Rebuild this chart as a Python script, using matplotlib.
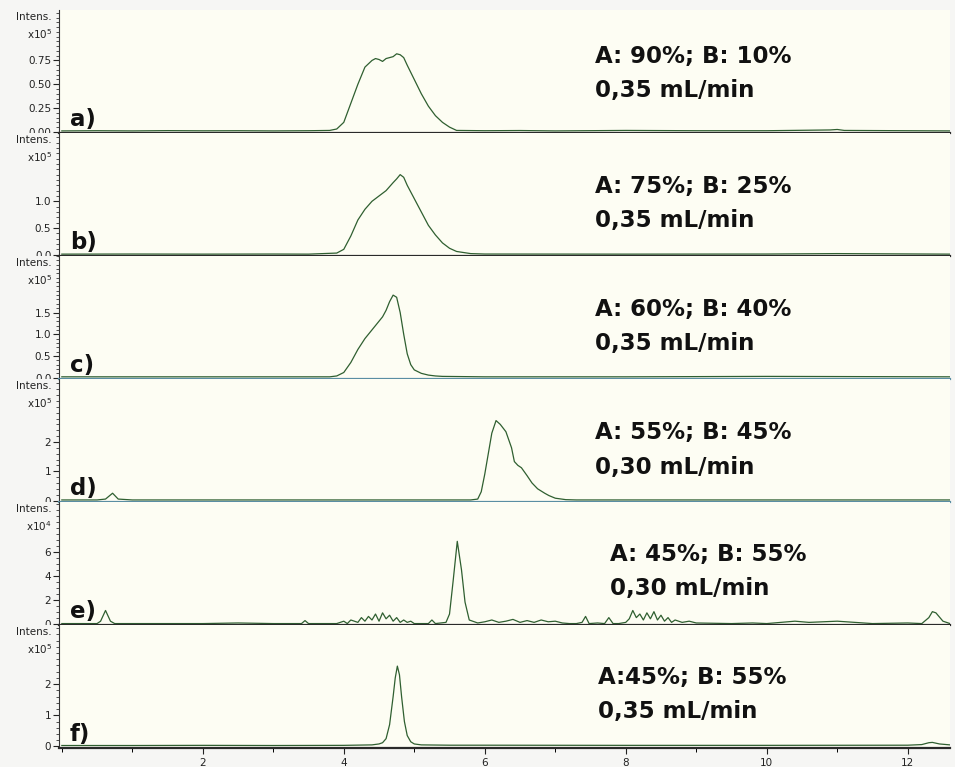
import matplotlib
matplotlib.use("Agg")
import matplotlib.pyplot as plt
from matplotlib.ticker import FixedLocator, MultipleLocator, FixedFormatter
from matplotlib.transforms import Bbox, TransformedBbox

# ---------------- data ----------------
t_a = [0, 0.5, 1, 1.5, 2, 2.5, 3, 3.5, 3.8, 3.9, 4.0, 4.1, 4.2, 4.3, 4.4, 4.45, 4.5, 4.55, 4.6, 4.65,
       4.7, 4.75, 4.8, 4.85, 4.9, 5.0, 5.1, 5.2, 5.3, 5.4, 5.5, 5.6, 6, 6.5, 7, 8, 9, 10, 10.9, 11.0, 11.1, 12, 12.6]
y_a = [0.010, 0.012, 0.010, 0.013, 0.011, 0.012, 0.010, 0.012, 0.015, 0.03, 0.10, 0.30, 0.50, 0.68, 0.75, 0.77,
       0.76, 0.74, 0.77, 0.78, 0.79, 0.82, 0.81, 0.78, 0.70, 0.55, 0.40, 0.27, 0.17, 0.10, 0.05, 0.015, 0.012,
       0.014, 0.010, 0.015, 0.012, 0.012, 0.020, 0.025, 0.015, 0.012, 0.010]

t_b = [0, 1, 2, 3, 3.5, 3.9, 4.0, 4.1, 4.2, 4.3, 4.4, 4.5, 4.6, 4.7, 4.75, 4.8, 4.85, 4.9, 5.0, 5.1, 5.2,
       5.3, 5.4, 5.5, 5.6, 5.8, 6, 8, 10, 11, 12.6]
y_b = [0.01, 0.012, 0.01, 0.012, 0.01, 0.03, 0.10, 0.35, 0.65, 0.85, 1.00, 1.10, 1.20, 1.35, 1.42, 1.50, 1.45,
       1.30, 1.05, 0.80, 0.55, 0.37, 0.22, 0.12, 0.06, 0.02, 0.012, 0.01, 0.012, 0.02, 0.01]

t_c = [0, 2, 3.8, 3.9, 4.0, 4.1, 4.2, 4.3, 4.4, 4.5, 4.55, 4.6, 4.65, 4.7, 4.75, 4.8, 4.85, 4.9, 4.95, 5.0,
       5.1, 5.2, 5.3, 5.4, 6, 8, 10, 12.6]
y_c = [0.02, 0.02, 0.02, 0.04, 0.12, 0.35, 0.65, 0.90, 1.10, 1.30, 1.40, 1.55, 1.75, 1.90, 1.85, 1.50, 1.00,
       0.55, 0.30, 0.18, 0.10, 0.06, 0.04, 0.03, 0.02, 0.02, 0.03, 0.02]

t_d = [0, 0.5, 0.62, 0.72, 0.8, 1.0, 3, 5, 5.8, 5.9, 5.95, 6.0, 6.05, 6.1, 6.16, 6.22, 6.3, 6.38, 6.42, 6.47,
       6.52, 6.6, 6.67, 6.75, 6.85, 6.91, 7.0, 7.15, 7.3, 9, 11, 12.6]
y_d = [0.02, 0.02, 0.05, 0.25, 0.05, 0.02, 0.02, 0.02, 0.02, 0.05, 0.30, 0.90, 1.60, 2.30, 2.73, 2.60, 2.35,
       1.80, 1.33, 1.20, 1.12, 0.85, 0.60, 0.40, 0.25, 0.17, 0.08, 0.03, 0.02, 0.02, 0.02, 0.02]

t_e = [0, 0.5, 0.55, 0.62, 0.69, 0.75, 1.0, 1.5, 2.0, 2.5,
       3.0, 3.4, 3.45, 3.5, 3.9, 4.0, 4.05, 4.1, 4.2, 4.25,
       4.3, 4.35, 4.4, 4.45, 4.5, 4.55, 4.6, 4.65, 4.7, 4.75,
       4.8, 4.85, 4.9, 4.95, 5.0, 5.2, 5.25, 5.3, 5.45, 5.5,
       5.55, 5.61, 5.67, 5.72, 5.78, 5.9, 6.0, 6.1, 6.2, 6.3,
       6.4, 6.5, 6.6, 6.7, 6.8, 6.9, 7.0, 7.1, 7.2, 7.3,
       7.38, 7.43, 7.48, 7.6, 7.7, 7.76, 7.82, 7.9, 8.0, 8.05,
       8.1, 8.15, 8.2, 8.25, 8.3, 8.35, 8.4, 8.45, 8.5, 8.55,
       8.6, 8.65, 8.7, 8.8, 8.9, 9.0, 9.5, 9.8, 10.0, 10.2,
       10.4, 10.6, 11.0, 11.5, 12.0, 12.2, 12.3, 12.35, 12.4, 12.5,
       12.6]
y_e = [0.0, 0.0, 0.2, 1.1, 0.2, 0.0, 0.0, 0.0, 0.0, 0.05,
       0.0, 0.0, 0.25, 0.0, 0.0, 0.2, 0.0, 0.3, 0.1, 0.5,
       0.2, 0.6, 0.3, 0.8, 0.2, 0.9, 0.4, 0.7, 0.2, 0.5,
       0.1, 0.3, 0.1, 0.2, 0.0, 0.0, 0.3, 0.0, 0.1, 0.8,
       3.5, 6.9, 4.5, 1.8, 0.3, 0.05, 0.15, 0.3, 0.1, 0.2,
       0.35, 0.1, 0.25, 0.1, 0.3, 0.15, 0.2, 0.05, 0.0, 0.0,
       0.1, 0.6, 0.0, 0.05, 0.0, 0.5, 0.0, 0.0, 0.1, 0.4,
       1.1, 0.5, 0.8, 0.3, 0.9, 0.4, 1.0, 0.3, 0.7, 0.2,
       0.5, 0.1, 0.3, 0.1, 0.2, 0.05, 0.0, 0.05, 0.0, 0.1,
       0.2, 0.1, 0.2, 0.0, 0.05, 0.0, 0.5, 1.0, 0.9, 0.2,
       0.0]

t_f = [0, 1, 2, 3, 4, 4.4, 4.5, 4.55, 4.6, 4.65, 4.7, 4.73, 4.76, 4.79, 4.82, 4.86, 4.9, 4.95, 5.0, 5.1,
       5.5, 6, 8, 10, 12, 12.2, 12.3, 12.35, 12.45, 12.6]
y_f = [0.03, 0.03, 0.035, 0.03, 0.035, 0.05, 0.08, 0.12, 0.25, 0.70, 1.60, 2.20, 2.58, 2.30, 1.60, 0.80,
       0.35, 0.15, 0.08, 0.05, 0.04, 0.04, 0.035, 0.035, 0.04, 0.06, 0.12, 0.13, 0.08, 0.05]

panel_labels = ["a)", "b)", "c)", "d)", "e)", "f)"]
line1 = ["A: 90%; B: 10%", "A: 75%; B: 25%", "A: 60%; B: 40%", "A: 55%; B: 45%", "A: 45%; B: 55%", "A:45%; B: 55%"]
line2 = ["0,35 mL/min", "0,35 mL/min", "0,35 mL/min", "0,30 mL/min", "0,30 mL/min", "0,35 mL/min"]
exponents = [5, 5, 5, 5, 4, 5]
y_ticks = [[0, 0.25, 0.5, 0.75], [0, 0.5, 1.0], [0, 0.5, 1.0, 1.5], [0, 1, 2], [0, 2, 4, 6], [0, 1, 2]]
y_ticklabels = [["0.00", "0.25", "0.50", "0.75"], ["0.0", "0.5", "1.0"], ["0.0", "0.5", "1.0", "1.5"],
                ["0", "1", "2"], ["0", "2", "4", "6"], ["0", "1", "2"]]
y_minor = [0.05, 0.1, 0.1, 0.2, 0.5, 0.2]
y_lims = [(-0.012, 1.28), (-0.025, 2.28), (-0.03, 2.8), (-0.05, 4.15), (-0.12, 10.2), (-0.05, 3.9)]
x_ticks = [2, 4, 6, 8, 10, 12]

# ---------------- styling ----------------
FIG_BG = "#f6f6f4"
AX_BG = "#fdfdf3"
TRACE = "#2f5f30"
BIG_FONT = ["DejaVu Sans"]
series = [(t_a, y_a), (t_b, y_b), (t_c, y_c), (t_d, y_d), (t_e, y_e), (t_f, y_f)]
spine_cols = ["#2a2a2a", "#2a2a2a", "#5a8ea3", "#5a8ea3", "#2a2a2a", "#2a2a2a"]
txt_x = [0.602, 0.602, 0.602, 0.602, 0.618, 0.605]
txt_y1 = [0.622, 0.569, 0.569, 0.561, 0.577, 0.577]
txt_y2 = [0.345, 0.292, 0.292, 0.284, 0.300, 0.300]

fig = plt.figure(figsize=(9.55, 7.67), dpi=100, facecolor=FIG_BG)
axes = fig.subplots(6, 1, sharex=True)
fig.subplots_adjust(left=59 / 955, right=950 / 955, top=1 - 10 / 767, bottom=19 / 767, hspace=0)

for i, ax in enumerate(axes):
    t, y = series[i]
    ax.set_facecolor(AX_BG)
    ax.plot(t, y, color=TRACE, lw=0.9)
    ax.set_xlim(-0.04, 12.6)
    ax.set_ylim(*y_lims[i])
    for s in ("top", "right"):
        ax.spines[s].set_visible(False)
    ax.spines["left"].set_color("#333333")
    ax.spines["left"].set_linewidth(0.8)
    ax.spines["bottom"].set_color(spine_cols[i])
    ax.spines["bottom"].set_linewidth(1.6)
    ax.yaxis.set_major_locator(FixedLocator(y_ticks[i]))
    ax.yaxis.set_major_formatter(FixedFormatter(y_ticklabels[i]))
    ax.yaxis.set_minor_locator(MultipleLocator(y_minor[i]))
    ax.tick_params(axis="y", which="major", direction="out", length=4, width=0.8,
                   labelsize=7.5, pad=1.5, colors="#222222")
    ax.tick_params(axis="y", which="minor", direction="out", length=2, width=0.6, colors="#333333")
    ax.xaxis.set_major_locator(FixedLocator(x_ticks))
    ax.xaxis.set_minor_locator(MultipleLocator(1))
    if i < 5:
        ax.tick_params(axis="x", which="both", bottom=False, labelbottom=False)
    else:
        ax.tick_params(axis="x", which="major", direction="out", length=4, width=0.8,
                       labelsize=7.5, pad=3, colors="#222222")
        ax.tick_params(axis="x", which="minor", direction="out", length=3, width=0.7)
    # Intens. / x10^n labels
    ax.annotate("Intens.", xy=(0, 1), xycoords="axes fraction", xytext=(-5, -5),
                textcoords="offset points", ha="right", va="center", fontsize=7.5, color="#222222",
                annotation_clip=False)
    ax.annotate("x10$^{%d}$" % exponents[i], xy=(0, 1), xycoords="axes fraction", xytext=(-5, -17),
                textcoords="offset points", ha="right", va="center", fontsize=7.5, color="#222222",
                annotation_clip=False)
    ax.text(0.012, 0.11, panel_labels[i], transform=ax.transAxes, fontsize=16.5, fontweight="bold",
            family=BIG_FONT, ha="left", va="center", color="#111111")
    ax.text(txt_x[i], txt_y1[i], line1[i], transform=ax.transAxes, fontsize=16.5, fontweight="bold",
            family=BIG_FONT, ha="left", va="center", color="#111111")
    ax.text(txt_x[i], txt_y2[i], line2[i], transform=ax.transAxes, fontsize=16.5, fontweight="bold",
            family=BIG_FONT, ha="left", va="center", color="#111111")

# the baseline "0" labels of the upper panels are cut off by the panel below, as in the reference
fig.canvas.draw()
for i, ax in enumerate(axes[:-1]):
    y0 = ax.get_position().y0
    clip = TransformedBbox(Bbox([[0, y0], [1, 1]]), fig.transFigure)
    for lab in ax.get_yticklabels():
        if lab.get_text() in ("0", "0.0", "0.00"):
            lab.set_clip_on(True)
            lab.set_clip_box(clip)

fig.savefig("out.png", dpi=100, facecolor=FIG_BG)
